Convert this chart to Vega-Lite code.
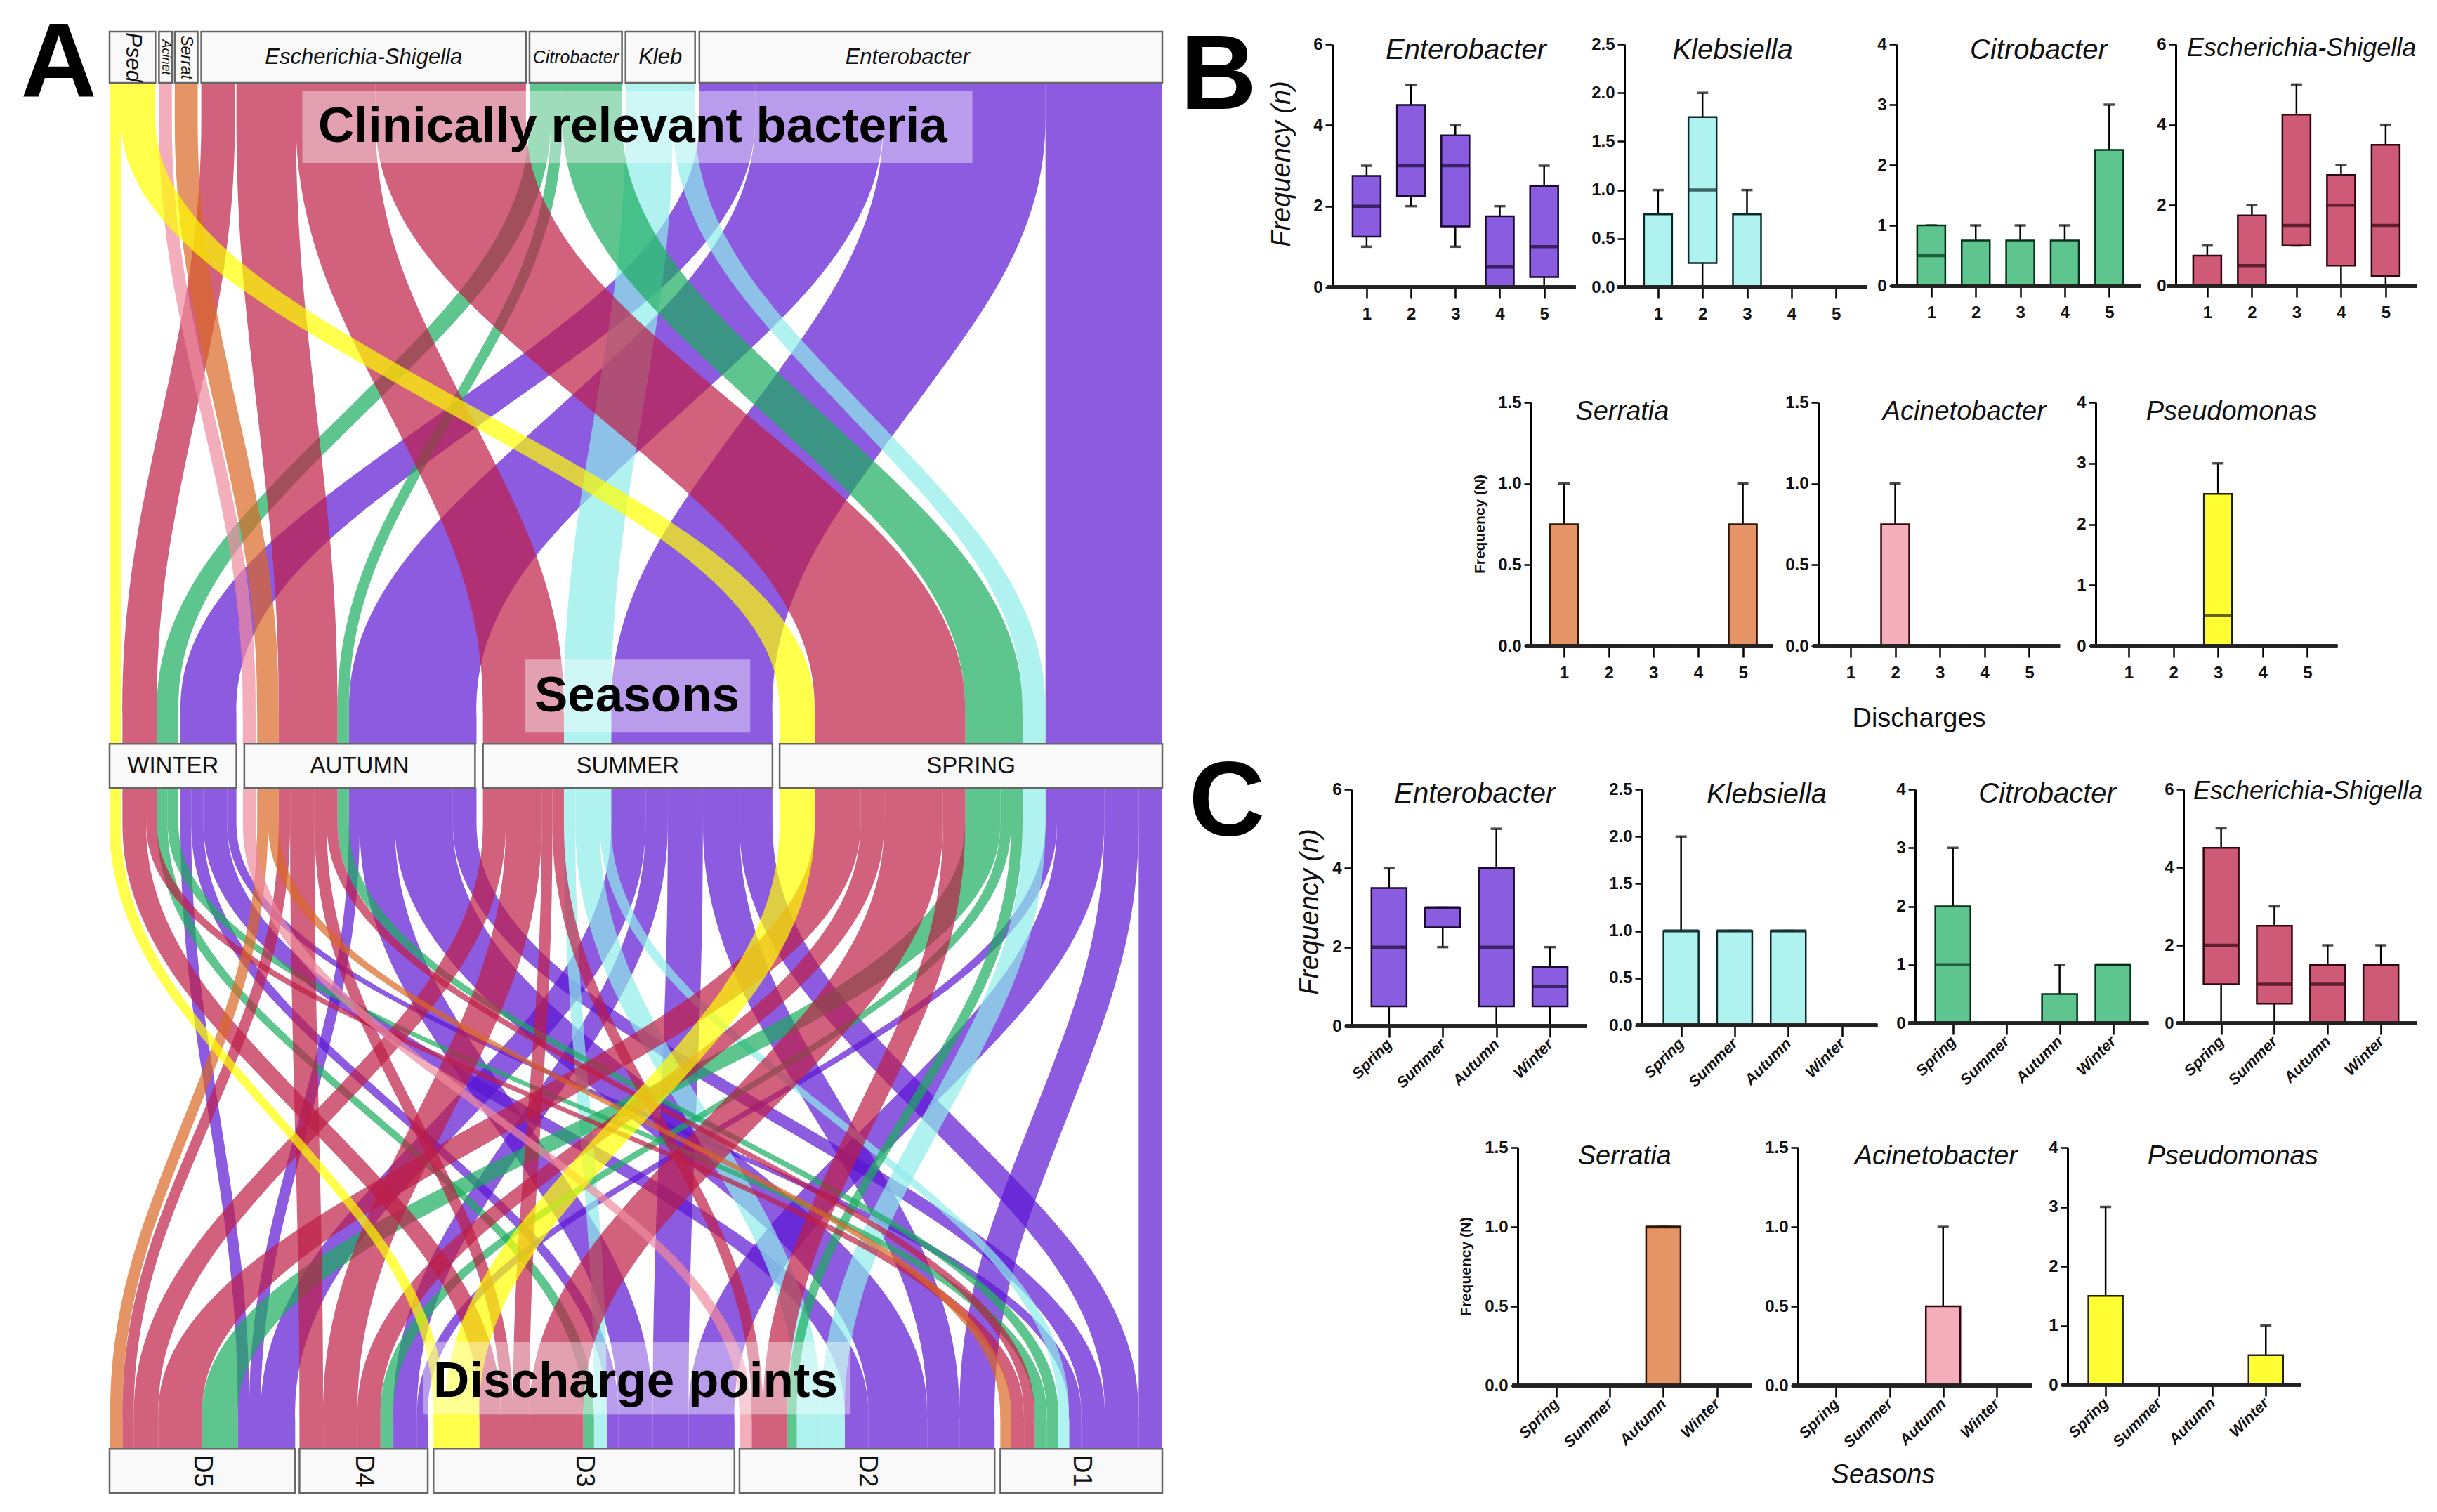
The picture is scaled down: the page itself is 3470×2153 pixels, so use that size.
{"$schema":"https://vega.github.io/schema/vega-lite/v6.json","padding":0,"autosize":{"type":"pad"},"background":"white",
"config":{"font":"Liberation Sans","view":{"stroke":null},"axis":{"grid":false,"labelFontWeight":"bold","labelFontSize":24,"labelColor":"#111","tickColor":"#000","tickWidth":2.5,"domainColor":"#000","domainWidth":3,"labelOverlap":false,"titleFontWeight":"normal","titleColor":"#111","titleFontSize":38},"axisX":{"domain":false,"tickSize":16,"labelPadding":10},"axisY":{"tickSize":10,"labelPadding":4}},
"datasets":{
"nodes":[
{"level":"Bacteria","label":"Psed","l":54,"h":118,"t0":-0.233,"t1":0},{"level":"Bacteria","label":"Acinet","l":123,"h":141,"t0":-0.233,"t1":0},{"level":"Bacteria","label":"Serrat","l":145,"h":177,"t0":-0.233,"t1":0},{"level":"Bacteria","label":"Escherichia-Shigella","l":182,"h":635,"t0":-0.233,"t1":0},{"level":"Bacteria","label":"Citrobacter","l":640,"h":769,"t0":-0.233,"t1":0},{"level":"Bacteria","label":"Kleb","l":774,"h":871,"t0":-0.233,"t1":0},{"level":"Bacteria","label":"Enterobacter","l":877,"h":1523,"t0":-0.233,"t1":0},
{"level":"Season","label":"WINTER","l":54,"h":231,"t0":3,"t1":3.2},{"level":"Season","label":"AUTUMN","l":242,"h":564,"t0":3,"t1":3.2},{"level":"Season","label":"SUMMER","l":575,"h":979,"t0":3,"t1":3.2},{"level":"Season","label":"SPRING","l":989,"h":1523,"t0":3,"t1":3.2},
{"level":"Discharge","label":"D5","l":54,"h":313,"t0":6.2,"t1":6.4},{"level":"Discharge","label":"D4","l":319,"h":498,"t0":6.2,"t1":6.4},{"level":"Discharge","label":"D3","l":506,"h":926,"t0":6.2,"t1":6.4},{"level":"Discharge","label":"D2","l":933,"h":1289,"t0":6.2,"t1":6.4},{"level":"Discharge","label":"D1","l":1297,"h":1523,"t0":6.2,"t1":6.4}],
"ribbons":[
{"r":1,"g":"Enterobacter","t":0,"l":877,"h":955},{"r":1,"g":"Enterobacter","t":0.8,"l":877,"h":955},{"r":1,"g":"Enterobacter","t":2.2,"l":153,"h":231},{"r":1,"g":"Enterobacter","t":3,"l":153,"h":231},
{"r":2,"g":"Enterobacter","t":0,"l":955,"h":1134},{"r":2,"g":"Enterobacter","t":0.8,"l":955,"h":1134},{"r":2,"g":"Enterobacter","t":2.2,"l":388,"h":566},{"r":2,"g":"Enterobacter","t":3,"l":388,"h":566},
{"r":3,"g":"Enterobacter","t":0,"l":1134,"h":1360},{"r":3,"g":"Enterobacter","t":0.8,"l":1134,"h":1360},{"r":3,"g":"Enterobacter","t":2.2,"l":754,"h":979},{"r":3,"g":"Enterobacter","t":3,"l":754,"h":979},
{"r":4,"g":"Enterobacter","t":0,"l":1360,"h":1523},{"r":4,"g":"Enterobacter","t":0.8,"l":1360,"h":1523},{"r":4,"g":"Enterobacter","t":2.2,"l":1360,"h":1523},{"r":4,"g":"Enterobacter","t":3,"l":1360,"h":1523},
{"r":5,"g":"Klebsiella","t":0,"l":774,"h":840},{"r":5,"g":"Klebsiella","t":0.8,"l":774,"h":840},{"r":5,"g":"Klebsiella","t":2.2,"l":688,"h":754},{"r":5,"g":"Klebsiella","t":3,"l":688,"h":754},
{"r":6,"g":"Klebsiella","t":0,"l":840,"h":871},{"r":6,"g":"Klebsiella","t":0.8,"l":840,"h":871},{"r":6,"g":"Klebsiella","t":2.2,"l":1328,"h":1360},{"r":6,"g":"Klebsiella","t":3,"l":1328,"h":1360},
{"r":7,"g":"Citrobacter","t":0,"l":640,"h":670},{"r":7,"g":"Citrobacter","t":0.8,"l":640,"h":670},{"r":7,"g":"Citrobacter","t":2.2,"l":120,"h":150},{"r":7,"g":"Citrobacter","t":3,"l":120,"h":150},
{"r":8,"g":"Citrobacter","t":0,"l":670,"h":686},{"r":8,"g":"Citrobacter","t":0.8,"l":670,"h":686},{"r":8,"g":"Citrobacter","t":2.2,"l":372,"h":388},{"r":8,"g":"Citrobacter","t":3,"l":372,"h":388},
{"r":9,"g":"Citrobacter","t":0,"l":686,"h":769},{"r":9,"g":"Citrobacter","t":0.8,"l":686,"h":769},{"r":9,"g":"Citrobacter","t":2.2,"l":1248,"h":1328},{"r":9,"g":"Citrobacter","t":3,"l":1248,"h":1328},
{"r":10,"g":"Escherichia","t":0,"l":182,"h":229},{"r":10,"g":"Escherichia","t":0.8,"l":182,"h":229},{"r":10,"g":"Escherichia","t":2.2,"l":72,"h":120},{"r":10,"g":"Escherichia","t":3,"l":72,"h":120},
{"r":11,"g":"Escherichia","t":0,"l":231,"h":314},{"r":11,"g":"Escherichia","t":0.8,"l":231,"h":314},{"r":11,"g":"Escherichia","t":2.2,"l":290,"h":372},{"r":11,"g":"Escherichia","t":3,"l":290,"h":372},
{"r":12,"g":"Escherichia","t":0,"l":314,"h":425},{"r":12,"g":"Escherichia","t":0.8,"l":314,"h":425},{"r":12,"g":"Escherichia","t":2.2,"l":575,"h":688},{"r":12,"g":"Escherichia","t":3,"l":575,"h":688},
{"r":13,"g":"Escherichia","t":0,"l":425,"h":635},{"r":13,"g":"Escherichia","t":0.8,"l":425,"h":635},{"r":13,"g":"Escherichia","t":2.2,"l":1038,"h":1248},{"r":13,"g":"Escherichia","t":3,"l":1038,"h":1248},
{"r":14,"g":"Serratia","t":0,"l":145,"h":177},{"r":14,"g":"Serratia","t":0.8,"l":145,"h":177},{"r":14,"g":"Serratia","t":2.2,"l":260,"h":290},{"r":14,"g":"Serratia","t":3,"l":260,"h":290},
{"r":15,"g":"Acinetobacter","t":0,"l":123,"h":141},{"r":15,"g":"Acinetobacter","t":0.8,"l":123,"h":141},{"r":15,"g":"Acinetobacter","t":2.2,"l":240,"h":258},{"r":15,"g":"Acinetobacter","t":3,"l":240,"h":258},
{"r":16,"g":"Pseudomonas","t":0,"l":54,"h":70},{"r":16,"g":"Pseudomonas","t":0.8,"l":54,"h":70},{"r":16,"g":"Pseudomonas","t":2.2,"l":54,"h":70},{"r":16,"g":"Pseudomonas","t":3,"l":54,"h":70},
{"r":17,"g":"Pseudomonas","t":0,"l":70,"h":118},{"r":17,"g":"Pseudomonas","t":0.8,"l":70,"h":118},{"r":17,"g":"Pseudomonas","t":2.2,"l":989,"h":1038},{"r":17,"g":"Pseudomonas","t":3,"l":989,"h":1038},
{"r":20,"g":"Enterobacter","t":3.2,"l":153,"h":168},{"r":20,"g":"Enterobacter","t":4,"l":153,"h":168},{"r":20,"g":"Enterobacter","t":5.4,"l":233,"h":249},{"r":20,"g":"Enterobacter","t":6.2,"l":233,"h":249},
{"r":21,"g":"Enterobacter","t":3.2,"l":168,"h":185},{"r":21,"g":"Enterobacter","t":4,"l":168,"h":185},{"r":21,"g":"Enterobacter","t":5.4,"l":748,"h":764},{"r":21,"g":"Enterobacter","t":6.2,"l":748,"h":764},
{"r":22,"g":"Enterobacter","t":3.2,"l":185,"h":218},{"r":22,"g":"Enterobacter","t":4,"l":185,"h":218},{"r":22,"g":"Enterobacter","t":5.4,"l":1080,"h":1113},{"r":22,"g":"Enterobacter","t":6.2,"l":1080,"h":1113},
{"r":23,"g":"Enterobacter","t":3.2,"l":218,"h":231},{"r":23,"g":"Enterobacter","t":4,"l":218,"h":231},{"r":23,"g":"Enterobacter","t":5.4,"l":1393,"h":1410},{"r":23,"g":"Enterobacter","t":6.2,"l":1393,"h":1410},
{"r":24,"g":"Enterobacter","t":3.2,"l":388,"h":403},{"r":24,"g":"Enterobacter","t":4,"l":388,"h":403},{"r":24,"g":"Enterobacter","t":5.4,"l":249,"h":265},{"r":24,"g":"Enterobacter","t":6.2,"l":249,"h":265},
{"r":25,"g":"Enterobacter","t":3.2,"l":403,"h":452},{"r":25,"g":"Enterobacter","t":4,"l":403,"h":452},{"r":25,"g":"Enterobacter","t":5.4,"l":764,"h":812},{"r":25,"g":"Enterobacter","t":6.2,"l":764,"h":812},
{"r":26,"g":"Enterobacter","t":3.2,"l":452,"h":533},{"r":26,"g":"Enterobacter","t":4,"l":452,"h":533},{"r":26,"g":"Enterobacter","t":5.4,"l":1113,"h":1195},{"r":26,"g":"Enterobacter","t":6.2,"l":1113,"h":1195},
{"r":27,"g":"Enterobacter","t":3.2,"l":533,"h":566},{"r":27,"g":"Enterobacter","t":4,"l":533,"h":566},{"r":27,"g":"Enterobacter","t":5.4,"l":1410,"h":1443},{"r":27,"g":"Enterobacter","t":6.2,"l":1410,"h":1443},
{"r":28,"g":"Enterobacter","t":3.2,"l":754,"h":802},{"r":28,"g":"Enterobacter","t":4,"l":754,"h":802},{"r":28,"g":"Enterobacter","t":5.4,"l":265,"h":313},{"r":28,"g":"Enterobacter","t":6.2,"l":265,"h":313},
{"r":29,"g":"Enterobacter","t":3.2,"l":802,"h":833},{"r":29,"g":"Enterobacter","t":4,"l":802,"h":833},{"r":29,"g":"Enterobacter","t":5.4,"l":450,"h":483},{"r":29,"g":"Enterobacter","t":6.2,"l":450,"h":483},
{"r":30,"g":"Enterobacter","t":3.2,"l":833,"h":882},{"r":30,"g":"Enterobacter","t":4,"l":833,"h":882},{"r":30,"g":"Enterobacter","t":5.4,"l":812,"h":862},{"r":30,"g":"Enterobacter","t":6.2,"l":812,"h":862},
{"r":31,"g":"Enterobacter","t":3.2,"l":882,"h":933},{"r":31,"g":"Enterobacter","t":4,"l":882,"h":933},{"r":31,"g":"Enterobacter","t":5.4,"l":1195,"h":1240},{"r":31,"g":"Enterobacter","t":6.2,"l":1195,"h":1240},
{"r":32,"g":"Enterobacter","t":3.2,"l":933,"h":979},{"r":32,"g":"Enterobacter","t":4,"l":933,"h":979},{"r":32,"g":"Enterobacter","t":5.4,"l":1443,"h":1490},{"r":32,"g":"Enterobacter","t":6.2,"l":1443,"h":1490},
{"r":33,"g":"Enterobacter","t":3.2,"l":1360,"h":1376},{"r":33,"g":"Enterobacter","t":4,"l":1360,"h":1376},{"r":33,"g":"Enterobacter","t":5.4,"l":483,"h":498},{"r":33,"g":"Enterobacter","t":6.2,"l":483,"h":498},
{"r":34,"g":"Enterobacter","t":3.2,"l":1376,"h":1442},{"r":34,"g":"Enterobacter","t":4,"l":1376,"h":1442},{"r":34,"g":"Enterobacter","t":5.4,"l":862,"h":926},{"r":34,"g":"Enterobacter","t":6.2,"l":862,"h":926},
{"r":35,"g":"Enterobacter","t":3.2,"l":1442,"h":1490},{"r":35,"g":"Enterobacter","t":4,"l":1442,"h":1490},{"r":35,"g":"Enterobacter","t":5.4,"l":1240,"h":1289},{"r":35,"g":"Enterobacter","t":6.2,"l":1240,"h":1289},
{"r":36,"g":"Enterobacter","t":3.2,"l":1490,"h":1523},{"r":36,"g":"Enterobacter","t":4,"l":1490,"h":1523},{"r":36,"g":"Enterobacter","t":5.4,"l":1490,"h":1523},{"r":36,"g":"Enterobacter","t":6.2,"l":1490,"h":1523},
{"r":40,"g":"Klebsiella","t":3.2,"l":688,"h":704},{"r":40,"g":"Klebsiella","t":4,"l":688,"h":704},{"r":40,"g":"Klebsiella","t":5.4,"l":730,"h":748},{"r":40,"g":"Klebsiella","t":6.2,"l":730,"h":748},
{"r":41,"g":"Klebsiella","t":3.2,"l":704,"h":738},{"r":41,"g":"Klebsiella","t":4,"l":704,"h":738},{"r":41,"g":"Klebsiella","t":5.4,"l":1013,"h":1047},{"r":41,"g":"Klebsiella","t":6.2,"l":1013,"h":1047},
{"r":42,"g":"Klebsiella","t":3.2,"l":738,"h":754},{"r":42,"g":"Klebsiella","t":4,"l":738,"h":754},{"r":42,"g":"Klebsiella","t":5.4,"l":1378,"h":1393},{"r":42,"g":"Klebsiella","t":6.2,"l":1378,"h":1393},
{"r":43,"g":"Klebsiella","t":3.2,"l":1328,"h":1360},{"r":43,"g":"Klebsiella","t":4,"l":1328,"h":1360},{"r":43,"g":"Klebsiella","t":5.4,"l":1047,"h":1080},{"r":43,"g":"Klebsiella","t":6.2,"l":1047,"h":1080},
{"r":50,"g":"Citrobacter","t":3.2,"l":120,"h":135},{"r":50,"g":"Citrobacter","t":4,"l":120,"h":135},{"r":50,"g":"Citrobacter","t":5.4,"l":715,"h":730},{"r":50,"g":"Citrobacter","t":6.2,"l":715,"h":730},
{"r":51,"g":"Citrobacter","t":3.2,"l":135,"h":150},{"r":51,"g":"Citrobacter","t":4,"l":135,"h":150},{"r":51,"g":"Citrobacter","t":5.4,"l":1345,"h":1362},{"r":51,"g":"Citrobacter","t":6.2,"l":1345,"h":1362},
{"r":52,"g":"Citrobacter","t":3.2,"l":372,"h":388},{"r":52,"g":"Citrobacter","t":4,"l":372,"h":388},{"r":52,"g":"Citrobacter","t":5.4,"l":1362,"h":1378},{"r":52,"g":"Citrobacter","t":6.2,"l":1362,"h":1378},
{"r":53,"g":"Citrobacter","t":3.2,"l":1248,"h":1297},{"r":53,"g":"Citrobacter","t":4,"l":1248,"h":1297},{"r":53,"g":"Citrobacter","t":5.4,"l":183,"h":233},{"r":53,"g":"Citrobacter","t":6.2,"l":183,"h":233},
{"r":54,"g":"Citrobacter","t":3.2,"l":1297,"h":1312},{"r":54,"g":"Citrobacter","t":4,"l":1297,"h":1312},{"r":54,"g":"Citrobacter","t":5.4,"l":432,"h":450},{"r":54,"g":"Citrobacter","t":6.2,"l":432,"h":450},
{"r":55,"g":"Citrobacter","t":3.2,"l":1312,"h":1328},{"r":55,"g":"Citrobacter","t":4,"l":1312,"h":1328},{"r":55,"g":"Citrobacter","t":5.4,"l":1000,"h":1013},{"r":55,"g":"Citrobacter","t":6.2,"l":1000,"h":1013},
{"r":60,"g":"Escherichia","t":3.2,"l":72,"h":105},{"r":60,"g":"Escherichia","t":4,"l":72,"h":105},{"r":60,"g":"Escherichia","t":5.4,"l":570,"h":600},{"r":60,"g":"Escherichia","t":6.2,"l":570,"h":600},
{"r":61,"g":"Escherichia","t":3.2,"l":105,"h":120},{"r":61,"g":"Escherichia","t":4,"l":105,"h":120},{"r":61,"g":"Escherichia","t":5.4,"l":1312,"h":1330},{"r":61,"g":"Escherichia","t":6.2,"l":1312,"h":1330},
{"r":62,"g":"Escherichia","t":3.2,"l":290,"h":306},{"r":62,"g":"Escherichia","t":4,"l":290,"h":306},{"r":62,"g":"Escherichia","t":5.4,"l":72,"h":88},{"r":62,"g":"Escherichia","t":6.2,"l":72,"h":88},
{"r":63,"g":"Escherichia","t":3.2,"l":306,"h":340},{"r":63,"g":"Escherichia","t":4,"l":306,"h":340},{"r":63,"g":"Escherichia","t":5.4,"l":319,"h":352},{"r":63,"g":"Escherichia","t":6.2,"l":319,"h":352},
{"r":64,"g":"Escherichia","t":3.2,"l":340,"h":357},{"r":64,"g":"Escherichia","t":4,"l":340,"h":357},{"r":64,"g":"Escherichia","t":5.4,"l":600,"h":617},{"r":64,"g":"Escherichia","t":6.2,"l":600,"h":617},
{"r":65,"g":"Escherichia","t":3.2,"l":357,"h":372},{"r":65,"g":"Escherichia","t":4,"l":357,"h":372},{"r":65,"g":"Escherichia","t":5.4,"l":1330,"h":1345},{"r":65,"g":"Escherichia","t":6.2,"l":1330,"h":1345},
{"r":66,"g":"Escherichia","t":3.2,"l":575,"h":607},{"r":66,"g":"Escherichia","t":4,"l":575,"h":607},{"r":66,"g":"Escherichia","t":5.4,"l":88,"h":122},{"r":66,"g":"Escherichia","t":6.2,"l":88,"h":122},
{"r":67,"g":"Escherichia","t":3.2,"l":607,"h":657},{"r":67,"g":"Escherichia","t":4,"l":607,"h":657},{"r":67,"g":"Escherichia","t":5.4,"l":352,"h":400},{"r":67,"g":"Escherichia","t":6.2,"l":352,"h":400},
{"r":68,"g":"Escherichia","t":3.2,"l":657,"h":672},{"r":68,"g":"Escherichia","t":4,"l":657,"h":672},{"r":68,"g":"Escherichia","t":5.4,"l":617,"h":640},{"r":68,"g":"Escherichia","t":6.2,"l":617,"h":640},
{"r":69,"g":"Escherichia","t":3.2,"l":672,"h":688},{"r":69,"g":"Escherichia","t":4,"l":672,"h":688},{"r":69,"g":"Escherichia","t":5.4,"l":950,"h":966},{"r":69,"g":"Escherichia","t":6.2,"l":950,"h":966},
{"r":70,"g":"Escherichia","t":3.2,"l":1038,"h":1102},{"r":70,"g":"Escherichia","t":4,"l":1038,"h":1102},{"r":70,"g":"Escherichia","t":5.4,"l":122,"h":183},{"r":70,"g":"Escherichia","t":6.2,"l":122,"h":183},
{"r":71,"g":"Escherichia","t":3.2,"l":1102,"h":1135},{"r":71,"g":"Escherichia","t":4,"l":1102,"h":1135},{"r":71,"g":"Escherichia","t":5.4,"l":400,"h":432},{"r":71,"g":"Escherichia","t":6.2,"l":400,"h":432},
{"r":72,"g":"Escherichia","t":3.2,"l":1135,"h":1217},{"r":72,"g":"Escherichia","t":4,"l":1135,"h":1217},{"r":72,"g":"Escherichia","t":5.4,"l":640,"h":715},{"r":72,"g":"Escherichia","t":6.2,"l":640,"h":715},
{"r":73,"g":"Escherichia","t":3.2,"l":1217,"h":1248},{"r":73,"g":"Escherichia","t":4,"l":1217,"h":1248},{"r":73,"g":"Escherichia","t":5.4,"l":966,"h":1000},{"r":73,"g":"Escherichia","t":6.2,"l":966,"h":1000},
{"r":80,"g":"Serratia","t":3.2,"l":260,"h":275},{"r":80,"g":"Serratia","t":4,"l":260,"h":275},{"r":80,"g":"Serratia","t":5.4,"l":55,"h":72},{"r":80,"g":"Serratia","t":6.2,"l":55,"h":72},
{"r":81,"g":"Serratia","t":3.2,"l":275,"h":290},{"r":81,"g":"Serratia","t":4,"l":275,"h":290},{"r":81,"g":"Serratia","t":5.4,"l":1297,"h":1312},{"r":81,"g":"Serratia","t":6.2,"l":1297,"h":1312},
{"r":82,"g":"Acinetobacter","t":3.2,"l":240,"h":258},{"r":82,"g":"Acinetobacter","t":4,"l":240,"h":258},{"r":82,"g":"Acinetobacter","t":5.4,"l":933,"h":950},{"r":82,"g":"Acinetobacter","t":6.2,"l":933,"h":950},
{"r":83,"g":"Pseudomonas","t":3.2,"l":54,"h":70},{"r":83,"g":"Pseudomonas","t":4,"l":54,"h":70},{"r":83,"g":"Pseudomonas","t":5.4,"l":506,"h":522},{"r":83,"g":"Pseudomonas","t":6.2,"l":506,"h":522},
{"r":84,"g":"Pseudomonas","t":3.2,"l":989,"h":1038},{"r":84,"g":"Pseudomonas","t":4,"l":989,"h":1038},{"r":84,"g":"Pseudomonas","t":5.4,"l":522,"h":570},{"r":84,"g":"Pseudomonas","t":6.2,"l":522,"h":570}],
"box":[
{"p":"B1","g":1,"lo":1,"q1":1.25,"m":2,"q3":2.75,"hi":3},{"p":"B1","g":2,"lo":2,"q1":2.25,"m":3,"q3":4.5,"hi":5},{"p":"B1","g":3,"lo":1,"q1":1.5,"m":3,"q3":3.75,"hi":4},{"p":"B1","g":4,"lo":0,"q1":0,"m":0.5,"q3":1.75,"hi":2},{"p":"B1","g":5,"lo":0,"q1":0.25,"m":1,"q3":2.5,"hi":3},
{"p":"B2","g":1,"lo":0,"q1":0,"m":0,"q3":0.75,"hi":1},{"p":"B2","g":2,"lo":0,"q1":0.25,"m":1,"q3":1.75,"hi":2},{"p":"B2","g":3,"lo":0,"q1":0,"m":0,"q3":0.75,"hi":1},{"p":"B2","g":4,"lo":0,"q1":0,"m":0,"q3":0,"hi":0},{"p":"B2","g":5,"lo":0,"q1":0,"m":0,"q3":0,"hi":0},
{"p":"B3","g":1,"lo":0,"q1":0,"m":0.5,"q3":1,"hi":1},{"p":"B3","g":2,"lo":0,"q1":0,"m":0,"q3":0.75,"hi":1},{"p":"B3","g":3,"lo":0,"q1":0,"m":0,"q3":0.75,"hi":1},{"p":"B3","g":4,"lo":0,"q1":0,"m":0,"q3":0.75,"hi":1},{"p":"B3","g":5,"lo":0,"q1":0,"m":0,"q3":2.25,"hi":3},
{"p":"B4","g":1,"lo":0,"q1":0,"m":0,"q3":0.75,"hi":1},{"p":"B4","g":2,"lo":0,"q1":0,"m":0.5,"q3":1.75,"hi":2},{"p":"B4","g":3,"lo":1,"q1":1,"m":1.5,"q3":4.25,"hi":5},{"p":"B4","g":4,"lo":0,"q1":0.5,"m":2,"q3":2.75,"hi":3},{"p":"B4","g":5,"lo":0,"q1":0.25,"m":1.5,"q3":3.5,"hi":4},
{"p":"S1","g":1,"lo":0,"q1":0,"m":0,"q3":0.75,"hi":1},{"p":"S1","g":2,"lo":0,"q1":0,"m":0,"q3":0,"hi":0},{"p":"S1","g":3,"lo":0,"q1":0,"m":0,"q3":0,"hi":0},{"p":"S1","g":4,"lo":0,"q1":0,"m":0,"q3":0,"hi":0},{"p":"S1","g":5,"lo":0,"q1":0,"m":0,"q3":0.75,"hi":1},
{"p":"S2","g":1,"lo":0,"q1":0,"m":0,"q3":0,"hi":0},{"p":"S2","g":2,"lo":0,"q1":0,"m":0,"q3":0.75,"hi":1},{"p":"S2","g":3,"lo":0,"q1":0,"m":0,"q3":0,"hi":0},{"p":"S2","g":4,"lo":0,"q1":0,"m":0,"q3":0,"hi":0},{"p":"S2","g":5,"lo":0,"q1":0,"m":0,"q3":0,"hi":0},
{"p":"S3","g":1,"lo":0,"q1":0,"m":0,"q3":0,"hi":0},{"p":"S3","g":2,"lo":0,"q1":0,"m":0,"q3":0,"hi":0},{"p":"S3","g":3,"lo":0,"q1":0,"m":0.5,"q3":2.5,"hi":3},{"p":"S3","g":4,"lo":0,"q1":0,"m":0,"q3":0,"hi":0},{"p":"S3","g":5,"lo":0,"q1":0,"m":0,"q3":0,"hi":0},
{"p":"C1","g":1,"lo":0,"q1":0.5,"m":2,"q3":3.5,"hi":4},{"p":"C1","g":2,"lo":2,"q1":2.5,"m":3,"q3":3,"hi":3},{"p":"C1","g":3,"lo":0,"q1":0.5,"m":2,"q3":4,"hi":5},{"p":"C1","g":4,"lo":0,"q1":0.5,"m":1,"q3":1.5,"hi":2},
{"p":"C2","g":1,"lo":0,"q1":0,"m":1,"q3":1,"hi":2},{"p":"C2","g":2,"lo":0,"q1":0,"m":1,"q3":1,"hi":1},{"p":"C2","g":3,"lo":0,"q1":0,"m":1,"q3":1,"hi":1},{"p":"C2","g":4,"lo":0,"q1":0,"m":0,"q3":0,"hi":0},
{"p":"C3","g":1,"lo":0,"q1":0,"m":1,"q3":2,"hi":3},{"p":"C3","g":2,"lo":0,"q1":0,"m":0,"q3":0,"hi":0},{"p":"C3","g":3,"lo":0,"q1":0,"m":0,"q3":0.5,"hi":1},{"p":"C3","g":4,"lo":0,"q1":0,"m":1,"q3":1,"hi":1},
{"p":"C4","g":1,"lo":0,"q1":1,"m":2,"q3":4.5,"hi":5},{"p":"C4","g":2,"lo":0,"q1":0.5,"m":1,"q3":2.5,"hi":3},{"p":"C4","g":3,"lo":0,"q1":0,"m":1,"q3":1.5,"hi":2},{"p":"C4","g":4,"lo":0,"q1":0,"m":0,"q3":1.5,"hi":2},
{"p":"R1","g":1,"lo":0,"q1":0,"m":0,"q3":0,"hi":0},{"p":"R1","g":2,"lo":0,"q1":0,"m":0,"q3":0,"hi":0},{"p":"R1","g":3,"lo":0,"q1":0,"m":1,"q3":1,"hi":1},{"p":"R1","g":4,"lo":0,"q1":0,"m":0,"q3":0,"hi":0},
{"p":"R2","g":1,"lo":0,"q1":0,"m":0,"q3":0,"hi":0},{"p":"R2","g":2,"lo":0,"q1":0,"m":0,"q3":0,"hi":0},{"p":"R2","g":3,"lo":0,"q1":0,"m":0,"q3":0.5,"hi":1},{"p":"R2","g":4,"lo":0,"q1":0,"m":0,"q3":0,"hi":0},
{"p":"R3","g":1,"lo":0,"q1":0,"m":0,"q3":1.5,"hi":3},{"p":"R3","g":2,"lo":0,"q1":0,"m":0,"q3":0,"hi":0},{"p":"R3","g":3,"lo":0,"q1":0,"m":0,"q3":0,"hi":0},{"p":"R3","g":4,"lo":0,"q1":0,"m":0,"q3":0.5,"hi":1}]
},
"spacing":0,
"hconcat":[
{"width":1645,"height":2091,"layer":[
{"data":{"values":[{"x0":-97.9,"x1":1666,"y0":-0.3733,"y1":6.4893}]},"mark":{"type":"rect","fill":"white"},"encoding":{"x":{"field":"x0","type":"quantitative","axis":null,"scale":{"domain":[54,1523],"range":[0,1499],"nice":false,"zero":false}},"x2":{"field":"x1"},"y":{"field":"y0","type":"quantitative","axis":null,"scale":{"domain":[-0.233,6.4],"range":[-18,2063],"nice":false,"zero":false}},"y2":{"field":"y1"}}},
{"data":{"name":"ribbons"},"mark":{"type":"area","orient":"horizontal","interpolate":"basis","opacity":0.7},"encoding":{"x":{"field":"l","type":"quantitative","axis":null,"stack":null},"x2":{"field":"h"},"y":{"field":"t","type":"quantitative","axis":null},"detail":{"field":"r"},"color":{"field":"g","type":"nominal","legend":null,"scale":{"domain":["Enterobacter","Klebsiella","Citrobacter","Escherichia","Serratia","Acinetobacter","Pseudomonas"],"range":["#5B16D3","#8EECE9","#19AC5E","#BE1E46","#DA6725","#EF8A9E","#FFFF00"]}}}},
{"data":{"name":"nodes"},"transform":[{"calculate":"(datum.l+datum.h)/2","as":"c"},{"calculate":"(datum.t0+datum.t1)/2","as":"m"}],"layer":[
{"mark":{"type":"rect","fill":"#F9F9F9","stroke":"#666666","strokeWidth":2.5},"encoding":{"x":{"field":"l","type":"quantitative","axis":null},"x2":{"field":"h"},"y":{"field":"t0","type":"quantitative","axis":null},"y2":{"field":"t1"}}},
{"transform":[{"filter":{"field":"label","oneOf":["Escherichia-Shigella","Kleb"]}}],"mark":{"type":"text","fontSize":31,"fontStyle":"italic","color":"#111"},"encoding":{"x":{"field":"c","type":"quantitative","axis":null},"y":{"field":"m","type":"quantitative","axis":null},"text":{"field":"label"}}},
{"transform":[{"filter":{"field":"label","oneOf":["Enterobacter"]}}],"mark":{"type":"text","fontSize":31,"fontStyle":"italic","color":"#111","dx":-33},"encoding":{"x":{"field":"c","type":"quantitative","axis":null},"y":{"field":"m","type":"quantitative","axis":null},"text":{"field":"label"}}},
{"transform":[{"filter":{"field":"label","oneOf":["Citrobacter"]}}],"mark":{"type":"text","fontSize":25,"fontStyle":"italic","color":"#111"},"encoding":{"x":{"field":"c","type":"quantitative","axis":null},"y":{"field":"m","type":"quantitative","axis":null},"text":{"field":"label"}}},
{"transform":[{"filter":{"field":"label","oneOf":["Psed"]}}],"mark":{"type":"text","fontSize":31,"fontStyle":"italic","angle":90,"color":"#111"},"encoding":{"x":{"field":"c","type":"quantitative","axis":null},"y":{"field":"m","type":"quantitative","axis":null},"text":{"field":"label"}}},
{"transform":[{"filter":{"field":"label","oneOf":["Serrat"]}}],"mark":{"type":"text","fontSize":23,"fontStyle":"italic","angle":90,"color":"#111"},"encoding":{"x":{"field":"c","type":"quantitative","axis":null},"y":{"field":"m","type":"quantitative","axis":null},"text":{"field":"label"}}},
{"transform":[{"filter":{"field":"label","oneOf":["Acinet"]}}],"mark":{"type":"text","fontSize":18,"fontStyle":"italic","angle":90,"color":"#111"},"encoding":{"x":{"field":"c","type":"quantitative","axis":null},"y":{"field":"m","type":"quantitative","axis":null},"text":{"field":"label"}}},
{"transform":[{"filter":{"field":"level","equal":"Season"}}],"mark":{"type":"text","fontSize":33,"color":"#111"},"encoding":{"x":{"field":"c","type":"quantitative","axis":null},"y":{"field":"m","type":"quantitative","axis":null},"text":{"field":"label"}}},
{"transform":[{"filter":{"field":"level","equal":"Discharge"}}],"mark":{"type":"text","fontSize":36,"angle":90,"color":"#111"},"encoding":{"x":{"field":"c","type":"quantitative","axis":null},"y":{"field":"m","type":"quantitative","axis":null},"text":{"field":"label"}}}]},
{"data":{"values":[{"x0":323,"x1":1258,"y0":0.035,"y1":0.363},{"x0":634,"x1":948,"y0":2.617,"y1":2.949},{"x0":492,"x1":1088,"y0":5.715,"y1":6.044}]},"mark":{"type":"rect","fill":"white","opacity":0.4},"encoding":{"x":{"field":"x0","type":"quantitative","axis":null},"x2":{"field":"x1"},"y":{"field":"y0","type":"quantitative","axis":null},"y2":{"field":"y1"}}},
{"data":{"values":[{"label":"Clinically relevant bacteria","x":784,"y":0.2},{"label":"Seasons","x":790,"y":2.786},{"label":"Discharge points","x":788,"y":5.897}]},"mark":{"type":"text","fontSize":71,"fontWeight":"bold","color":"#000"},"encoding":{"x":{"field":"x","type":"quantitative","axis":null},"y":{"field":"y","type":"quantitative","axis":null},"text":{"field":"label"}}},
{"data":{"values":[{"label":"A","x":-17,"y":0.0603},{"label":"B","x":1601,"y":0.118},{"label":"C","x":1613,"y":3.417}]},"mark":{"type":"text","fontSize":150,"fontWeight":"bold","color":"#000","baseline":"alphabetic"},"encoding":{"x":{"field":"x","type":"quantitative","axis":null},"y":{"field":"y","type":"quantitative","axis":null},"text":{"field":"label"}}}
]},
{"spacing":0,"vconcat":[
{"spacing":0,"bounds":"flush","hconcat":[
{"width":95,"height":1,"data":{"values":[{"x0":0,"x1":1,"y0":0,"y1":1}]},"mark":{"type":"rect","opacity":0},"encoding":{"x":{"field":"x0","type":"quantitative","axis":null,"scale":{"domain":[0,1],"range":[0,1670],"nice":false,"zero":false}},"x2":{"field":"x1"},"y":{"field":"y0","type":"quantitative","axis":null,"scale":{"domain":[0,1],"range":[-62,470],"nice":false,"zero":false}},"y2":{"field":"y1"}}},

{"width":416,"height":346,"data":{"name":"box"},"transform":[{"filter":"datum.p=='B1'"}],"encoding":{"x":{"field":"g","type":"quantitative","scale":{"domain":[0.305,6.73],"nice":false,"zero":false},"axis":{"values":[1,2,3,4,5],"format":"d","title":null}}},"layer":[
{"mark":{"type":"rule","color":"#000","strokeWidth":2.5},"encoding":{"y":{"field":"lo","type":"quantitative","scale":{"domain":[0,6],"nice":false},"axis":{"values":[0,2,4,6],"format":"d","title":"Frequency (n)","titleFontStyle":"italic","titleX":-72,"titleY":170,"titleBaseline":"middle"}},"y2":{"field":"hi"}}},
{"mark":{"type":"tick","orient":"horizontal","size":16,"thickness":3.5,"color":"#000"},"encoding":{"y":{"field":"hi","type":"quantitative"}}},
{"mark":{"type":"tick","orient":"horizontal","size":16,"thickness":3.5,"color":"#000"},"encoding":{"y":{"field":"lo","type":"quantitative"}}},
{"mark":{"type":"bar","orient":"vertical","size":40,"fill":"#8A5CE0","stroke":"#1a0a33","strokeWidth":2.5},"encoding":{"y":{"field":"q1","type":"quantitative"},"y2":{"field":"q3"}}},
{"mark":{"type":"tick","orient":"horizontal","size":40,"thickness":4.5,"color":"#1a0a33"},"encoding":{"y":{"field":"m","type":"quantitative"}}},
{"mark":{"type":"rule","color":"#222","strokeWidth":5},"encoding":{"x":{"datum":0.12,"type":"quantitative"},"x2":{"datum":5.71},"y":{"datum":0,"type":"quantitative"}}},
{"transform":[{"filter":"datum.g==1"}],"mark":{"type":"text","fontSize":40,"fontStyle":"italic","color":"#111"},"encoding":{"x":{"datum":3.24,"type":"quantitative"},"y":{"datum":5.84,"type":"quantitative"},"text":{"value":"Enterobacter"}}}]},

{"width":387,"height":346,"data":{"name":"box"},"transform":[{"filter":"datum.p=='B2'"}],"encoding":{"x":{"field":"g","type":"quantitative","scale":{"domain":[0.323,6.277],"nice":false,"zero":false},"axis":{"values":[1,2,3,4,5],"format":"d","title":null}}},"layer":[
{"mark":{"type":"rule","color":"#000","strokeWidth":2.5},"encoding":{"y":{"field":"lo","type":"quantitative","scale":{"domain":[0,2.5],"nice":false},"axis":{"values":[0,0.5,1,1.5,2,2.5],"format":".1f","title":null}},"y2":{"field":"hi"}}},
{"mark":{"type":"tick","orient":"horizontal","size":16,"thickness":3.5,"color":"#000"},"encoding":{"y":{"field":"hi","type":"quantitative"}}},
{"mark":{"type":"tick","orient":"horizontal","size":16,"thickness":3.5,"color":"#000"},"encoding":{"y":{"field":"lo","type":"quantitative"}}},
{"mark":{"type":"bar","orient":"vertical","size":40,"fill":"#B0F2F0","stroke":"#0a2a2a","strokeWidth":2.5},"encoding":{"y":{"field":"q1","type":"quantitative"},"y2":{"field":"q3"}}},
{"mark":{"type":"tick","orient":"horizontal","size":40,"thickness":4.5,"color":"#0a2a2a"},"encoding":{"y":{"field":"m","type":"quantitative"}}},
{"mark":{"type":"rule","color":"#222","strokeWidth":5},"encoding":{"x":{"datum":0.092,"type":"quantitative"},"x2":{"datum":5.692},"y":{"datum":0,"type":"quantitative"}}},
{"transform":[{"filter":"datum.g==1"}],"mark":{"type":"text","fontSize":40,"fontStyle":"italic","color":"#111"},"encoding":{"x":{"datum":2.677,"type":"quantitative"},"y":{"datum":2.435,"type":"quantitative"},"text":{"value":"Klebsiella"}}}]},

{"width":398,"height":344,"data":{"name":"box"},"transform":[{"filter":"datum.p=='B3'"}],"encoding":{"x":{"field":"g","type":"quantitative","scale":{"domain":[0.292,6.415],"nice":false,"zero":false},"axis":{"values":[1,2,3,4,5],"format":"d","title":null}}},"layer":[
{"mark":{"type":"rule","color":"#000","strokeWidth":2.5},"encoding":{"y":{"field":"lo","type":"quantitative","scale":{"domain":[0,4],"nice":false},"axis":{"values":[0,1,2,3,4],"format":"d","title":null}},"y2":{"field":"hi"}}},
{"mark":{"type":"tick","orient":"horizontal","size":16,"thickness":3.5,"color":"#000"},"encoding":{"y":{"field":"hi","type":"quantitative"}}},
{"mark":{"type":"tick","orient":"horizontal","size":16,"thickness":3.5,"color":"#000"},"encoding":{"y":{"field":"lo","type":"quantitative"}}},
{"mark":{"type":"bar","orient":"vertical","size":40,"fill":"#5EC58E","stroke":"#06301a","strokeWidth":2.5},"encoding":{"y":{"field":"q1","type":"quantitative"},"y2":{"field":"q3"}}},
{"mark":{"type":"tick","orient":"horizontal","size":40,"thickness":4.5,"color":"#06301a"},"encoding":{"y":{"field":"m","type":"quantitative"}}},
{"mark":{"type":"rule","color":"#222","strokeWidth":5},"encoding":{"x":{"datum":0.092,"type":"quantitative"},"x2":{"datum":5.707},"y":{"datum":0,"type":"quantitative"}}},
{"transform":[{"filter":"datum.g==1"}],"mark":{"type":"text","fontSize":40,"fontStyle":"italic","color":"#111"},"encoding":{"x":{"datum":3.415,"type":"quantitative"},"y":{"datum":3.895,"type":"quantitative"},"text":{"value":"Citrobacter"}}}]},

{"width":374,"height":344,"data":{"name":"box"},"transform":[{"filter":"datum.p=='B4'"}],"encoding":{"x":{"field":"g","type":"quantitative","scale":{"domain":[0.372,6.104],"nice":false,"zero":false},"axis":{"values":[1,2,3,4,5],"format":"d","title":null}}},"layer":[
{"mark":{"type":"rule","color":"#000","strokeWidth":2.5},"encoding":{"y":{"field":"lo","type":"quantitative","scale":{"domain":[0,6],"nice":false},"axis":{"values":[0,2,4,6],"format":"d","title":null}},"y2":{"field":"hi"}}},
{"mark":{"type":"tick","orient":"horizontal","size":16,"thickness":3.5,"color":"#000"},"encoding":{"y":{"field":"hi","type":"quantitative"}}},
{"mark":{"type":"tick","orient":"horizontal","size":16,"thickness":3.5,"color":"#000"},"encoding":{"y":{"field":"lo","type":"quantitative"}}},
{"mark":{"type":"bar","orient":"vertical","size":40,"fill":"#CE5A78","stroke":"#30060f","strokeWidth":2.5},"encoding":{"y":{"field":"q1","type":"quantitative"},"y2":{"field":"q3"}}},
{"mark":{"type":"tick","orient":"horizontal","size":40,"thickness":4.5,"color":"#30060f"},"encoding":{"y":{"field":"m","type":"quantitative"}}},
{"mark":{"type":"rule","color":"#222","strokeWidth":5},"encoding":{"x":{"datum":0.096,"type":"quantitative"},"x2":{"datum":5.705},"y":{"datum":0,"type":"quantitative"}}},
{"transform":[{"filter":"datum.g==1"}],"mark":{"type":"text","fontSize":36,"fontStyle":"italic","color":"#111"},"encoding":{"x":{"datum":3.115,"type":"quantitative"},"y":{"datum":5.895,"type":"quantitative"},"text":{"value":"Escherichia-Shigella"}}}]}
]},

{"spacing":0,"bounds":"flush","hconcat":[
{"width":378,"height":1,"data":{"values":[{"x0":0,"x1":1,"y0":0,"y1":1}]},"mark":{"type":"rect","opacity":0},"encoding":{"x":{"field":"x0","type":"quantitative","axis":null,"scale":{"domain":[0,1],"range":[0,378],"nice":false,"zero":false}},"x2":{"field":"x1"},"y":{"field":"y0","type":"quantitative","axis":null,"scale":{"domain":[0,1],"range":[-40,511],"nice":false,"zero":false}},"y2":{"field":"y1"}}},

{"width":409,"height":347,"data":{"name":"box"},"transform":[{"filter":"datum.p=='S1'"}],"encoding":{"x":{"field":"g","type":"quantitative","scale":{"domain":[0.341,6.609],"nice":false,"zero":false},"axis":{"values":[1,2,3,4,5],"format":"d","title":null}}},"layer":[
{"mark":{"type":"rule","color":"#000","strokeWidth":2.5},"encoding":{"y":{"field":"lo","type":"quantitative","scale":{"domain":[0,1.5],"nice":false},"axis":{"values":[0,0.5,1,1.5],"format":".1f","title":"Frequency (N)","titleFontSize":21,"titleFontWeight":"bold","titleX":-73,"titleY":173,"titleBaseline":"middle"}},"y2":{"field":"hi"}}},
{"mark":{"type":"tick","orient":"horizontal","size":16,"thickness":3.5,"color":"#000"},"encoding":{"y":{"field":"hi","type":"quantitative"}}},
{"mark":{"type":"tick","orient":"horizontal","size":16,"thickness":3.5,"color":"#000"},"encoding":{"y":{"field":"lo","type":"quantitative"}}},
{"mark":{"type":"bar","orient":"vertical","size":40,"fill":"#E59565","stroke":"#331505","strokeWidth":2.5},"encoding":{"y":{"field":"q1","type":"quantitative"},"y2":{"field":"q3"}}},
{"mark":{"type":"tick","orient":"horizontal","size":40,"thickness":4.5,"color":"#331505"},"encoding":{"y":{"field":"m","type":"quantitative"}}},
{"mark":{"type":"rule","color":"#222","strokeWidth":5},"encoding":{"x":{"datum":0.142,"type":"quantitative"},"x2":{"datum":5.674},"y":{"datum":0,"type":"quantitative"}}},
{"transform":[{"filter":"datum.g==1"}],"mark":{"type":"text","fontSize":38,"fontStyle":"italic","color":"#111"},"encoding":{"x":{"datum":2.303,"type":"quantitative"},"y":{"datum":1.44,"type":"quantitative"},"text":{"value":"Serratia"}}}]},

{"width":395,"height":347,"data":{"name":"box"},"transform":[{"filter":"datum.p=='S2'"}],"encoding":{"x":{"field":"g","type":"quantitative","scale":{"domain":[0.356,6.41],"nice":false,"zero":false},"axis":{"values":[1,2,3,4,5],"format":"d","title":"Discharges","titleX":143,"titleY":103,"titleBaseline":"middle"}}},"layer":[
{"mark":{"type":"rule","color":"#000","strokeWidth":2.5},"encoding":{"y":{"field":"lo","type":"quantitative","scale":{"domain":[0,1.5],"nice":false},"axis":{"values":[0,0.5,1,1.5],"format":".1f","title":null}},"y2":{"field":"hi"}}},
{"mark":{"type":"tick","orient":"horizontal","size":16,"thickness":3.5,"color":"#000"},"encoding":{"y":{"field":"hi","type":"quantitative"}}},
{"mark":{"type":"tick","orient":"horizontal","size":16,"thickness":3.5,"color":"#000"},"encoding":{"y":{"field":"lo","type":"quantitative"}}},
{"mark":{"type":"bar","orient":"vertical","size":40,"fill":"#F4ADBB","stroke":"#33060f","strokeWidth":2.5},"encoding":{"y":{"field":"q1","type":"quantitative"},"y2":{"field":"q3"}}},
{"mark":{"type":"tick","orient":"horizontal","size":40,"thickness":4.5,"color":"#33060f"},"encoding":{"y":{"field":"m","type":"quantitative"}}},
{"mark":{"type":"rule","color":"#222","strokeWidth":5},"encoding":{"x":{"datum":0.157,"type":"quantitative"},"x2":{"datum":5.689},"y":{"datum":0,"type":"quantitative"}}},
{"transform":[{"filter":"datum.g==1"}],"mark":{"type":"text","fontSize":38,"fontStyle":"italic","color":"#111"},"encoding":{"x":{"datum":3.544,"type":"quantitative"},"y":{"datum":1.44,"type":"quantitative"},"text":{"value":"Acinetobacter"}}}]},

{"width":400,"height":347,"data":{"name":"box"},"transform":[{"filter":"datum.p=='S3'"}],"encoding":{"x":{"field":"g","type":"quantitative","scale":{"domain":[0.341,6.471],"nice":false,"zero":false},"axis":{"values":[1,2,3,4,5],"format":"d","title":null}}},"layer":[
{"mark":{"type":"rule","color":"#000","strokeWidth":2.5},"encoding":{"y":{"field":"lo","type":"quantitative","scale":{"domain":[0,4],"nice":false},"axis":{"values":[0,1,2,3,4],"format":"d","title":null}},"y2":{"field":"hi"}}},
{"mark":{"type":"tick","orient":"horizontal","size":16,"thickness":3.5,"color":"#000"},"encoding":{"y":{"field":"hi","type":"quantitative"}}},
{"mark":{"type":"tick","orient":"horizontal","size":16,"thickness":3.5,"color":"#000"},"encoding":{"y":{"field":"lo","type":"quantitative"}}},
{"mark":{"type":"bar","orient":"vertical","size":40,"fill":"#FFFF33","stroke":"#222200","strokeWidth":2.5},"encoding":{"y":{"field":"q1","type":"quantitative"},"y2":{"field":"q3"}}},
{"mark":{"type":"tick","orient":"horizontal","size":40,"thickness":4.5,"color":"#222200"},"encoding":{"y":{"field":"m","type":"quantitative"}}},
{"mark":{"type":"rule","color":"#222","strokeWidth":5},"encoding":{"x":{"datum":0.142,"type":"quantitative"},"x2":{"datum":5.674},"y":{"datum":0,"type":"quantitative"}}},
{"transform":[{"filter":"datum.g==1"}],"mark":{"type":"text","fontSize":38,"fontStyle":"italic","color":"#111"},"encoding":{"x":{"datum":3.299,"type":"quantitative"},"y":{"datum":3.84,"type":"quantitative"},"text":{"value":"Pseudomonas"}}}]}
]},

{"spacing":0,"bounds":"flush","hconcat":[
{"width":122,"height":1,"data":{"values":[{"x0":0,"x1":1,"y0":0,"y1":1}]},"mark":{"type":"rect","opacity":0},"encoding":{"x":{"field":"x0","type":"quantitative","axis":null,"scale":{"domain":[0,1],"range":[0,122],"nice":false,"zero":false}},"x2":{"field":"x1"},"y":{"field":"y0","type":"quantitative","axis":null,"scale":{"domain":[0,1],"range":[-40,470],"nice":false,"zero":false}},"y2":{"field":"y1"}}},

{"width":414,"height":337,"data":{"name":"box"},"transform":[{"filter":"datum.p=='C1'"}],"encoding":{"x":{"field":"g","type":"quantitative","scale":{"domain":[0.361,5.648],"nice":false,"zero":false},"axis":{"values":[1,2,3,4],"title":null,"labelExpr":"['','Spring','Summer','Autumn','Winter'][datum.value]","labelAngle":-45,"labelAlign":"right","labelBaseline":"middle","labelFontStyle":"italic","labelFontSize":22,"labelPadding":6}}},"layer":[
{"mark":{"type":"rule","color":"#000","strokeWidth":2.5},"encoding":{"y":{"field":"lo","type":"quantitative","scale":{"domain":[0,6],"nice":false},"axis":{"values":[0,2,4,6],"format":"d","title":"Frequency (n)","titleFontStyle":"italic","titleX":-59,"titleY":174,"titleBaseline":"middle"}},"y2":{"field":"hi"}}},
{"mark":{"type":"tick","orient":"horizontal","size":16,"thickness":3.5,"color":"#000"},"encoding":{"y":{"field":"hi","type":"quantitative"}}},
{"mark":{"type":"tick","orient":"horizontal","size":16,"thickness":3.5,"color":"#000"},"encoding":{"y":{"field":"lo","type":"quantitative"}}},
{"mark":{"type":"bar","orient":"vertical","size":50,"fill":"#8A5CE0","stroke":"#1a0a33","strokeWidth":2.5},"encoding":{"y":{"field":"q1","type":"quantitative"},"y2":{"field":"q3"}}},
{"mark":{"type":"tick","orient":"horizontal","size":50,"thickness":4.5,"color":"#1a0a33"},"encoding":{"y":{"field":"m","type":"quantitative"}}},
{"mark":{"type":"rule","color":"#222","strokeWidth":5},"encoding":{"x":{"datum":0.182,"type":"quantitative"},"x2":{"datum":4.678},"y":{"datum":0,"type":"quantitative"}}},
{"transform":[{"filter":"datum.g==1"}],"mark":{"type":"text","fontSize":40,"fontStyle":"italic","color":"#111"},"encoding":{"x":{"datum":2.596,"type":"quantitative"},"y":{"datum":5.875,"type":"quantitative"},"text":{"value":"Enterobacter"}}}]},

{"width":389,"height":336,"data":{"name":"box"},"transform":[{"filter":"datum.p=='C2'"}],"encoding":{"x":{"field":"g","type":"quantitative","scale":{"domain":[0.336,5.304],"nice":false,"zero":false},"axis":{"values":[1,2,3,4],"title":null,"labelExpr":"['','Spring','Summer','Autumn','Winter'][datum.value]","labelAngle":-45,"labelAlign":"right","labelBaseline":"middle","labelFontStyle":"italic","labelFontSize":22,"labelPadding":6}}},"layer":[
{"mark":{"type":"rule","color":"#000","strokeWidth":2.5},"encoding":{"y":{"field":"lo","type":"quantitative","scale":{"domain":[0,2.5],"nice":false},"axis":{"values":[0,0.5,1,1.5,2,2.5],"format":".1f","title":null}},"y2":{"field":"hi"}}},
{"mark":{"type":"tick","orient":"horizontal","size":16,"thickness":3.5,"color":"#000"},"encoding":{"y":{"field":"hi","type":"quantitative"}}},
{"mark":{"type":"tick","orient":"horizontal","size":16,"thickness":3.5,"color":"#000"},"encoding":{"y":{"field":"lo","type":"quantitative"}}},
{"mark":{"type":"bar","orient":"vertical","size":50,"fill":"#B0F2F0","stroke":"#0a2a2a","strokeWidth":2.5},"encoding":{"y":{"field":"q1","type":"quantitative"},"y2":{"field":"q3"}}},
{"mark":{"type":"tick","orient":"horizontal","size":50,"thickness":4.5,"color":"#0a2a2a"},"encoding":{"y":{"field":"m","type":"quantitative"}}},
{"mark":{"type":"rule","color":"#222","strokeWidth":5},"encoding":{"x":{"datum":0.157,"type":"quantitative"},"x2":{"datum":4.666},"y":{"datum":0,"type":"quantitative"}}},
{"transform":[{"filter":"datum.g==1"}],"mark":{"type":"text","fontSize":40,"fontStyle":"italic","color":"#111"},"encoding":{"x":{"datum":2.597,"type":"quantitative"},"y":{"datum":2.44,"type":"quantitative"},"text":{"value":"Klebsiella"}}}]},

{"width":382,"height":333,"data":{"name":"box"},"transform":[{"filter":"datum.p=='C3'"}],"encoding":{"x":{"field":"g","type":"quantitative","scale":{"domain":[0.359,5.256],"nice":false,"zero":false},"axis":{"values":[1,2,3,4],"title":null,"labelExpr":"['','Spring','Summer','Autumn','Winter'][datum.value]","labelAngle":-45,"labelAlign":"right","labelBaseline":"middle","labelFontStyle":"italic","labelFontSize":22,"labelPadding":6}}},"layer":[
{"mark":{"type":"rule","color":"#000","strokeWidth":2.5},"encoding":{"y":{"field":"lo","type":"quantitative","scale":{"domain":[0,4],"nice":false},"axis":{"values":[0,1,2,3,4],"format":"d","title":null}},"y2":{"field":"hi"}}},
{"mark":{"type":"tick","orient":"horizontal","size":16,"thickness":3.5,"color":"#000"},"encoding":{"y":{"field":"hi","type":"quantitative"}}},
{"mark":{"type":"tick","orient":"horizontal","size":16,"thickness":3.5,"color":"#000"},"encoding":{"y":{"field":"lo","type":"quantitative"}}},
{"mark":{"type":"bar","orient":"vertical","size":50,"fill":"#5EC58E","stroke":"#06301a","strokeWidth":2.5},"encoding":{"y":{"field":"q1","type":"quantitative"},"y2":{"field":"q3"}}},
{"mark":{"type":"tick","orient":"horizontal","size":50,"thickness":4.5,"color":"#06301a"},"encoding":{"y":{"field":"m","type":"quantitative"}}},
{"mark":{"type":"rule","color":"#222","strokeWidth":5},"encoding":{"x":{"datum":0.167,"type":"quantitative"},"x2":{"datum":4.667},"y":{"datum":0,"type":"quantitative"}}},
{"transform":[{"filter":"datum.g==1"}],"mark":{"type":"text","fontSize":40,"fontStyle":"italic","color":"#111"},"encoding":{"x":{"datum":2.769,"type":"quantitative"},"y":{"datum":3.916,"type":"quantitative"},"text":{"value":"Citrobacter"}}}]},

{"width":363,"height":333,"data":{"name":"box"},"transform":[{"filter":"datum.p=='C4'"}],"encoding":{"x":{"field":"g","type":"quantitative","scale":{"domain":[0.359,5.013],"nice":false,"zero":false},"axis":{"values":[1,2,3,4],"title":null,"labelExpr":"['','Spring','Summer','Autumn','Winter'][datum.value]","labelAngle":-45,"labelAlign":"right","labelBaseline":"middle","labelFontStyle":"italic","labelFontSize":22,"labelPadding":6}}},"layer":[
{"mark":{"type":"rule","color":"#000","strokeWidth":2.5},"encoding":{"y":{"field":"lo","type":"quantitative","scale":{"domain":[0,6],"nice":false},"axis":{"values":[0,2,4,6],"format":"d","title":null}},"y2":{"field":"hi"}}},
{"mark":{"type":"tick","orient":"horizontal","size":16,"thickness":3.5,"color":"#000"},"encoding":{"y":{"field":"hi","type":"quantitative"}}},
{"mark":{"type":"tick","orient":"horizontal","size":16,"thickness":3.5,"color":"#000"},"encoding":{"y":{"field":"lo","type":"quantitative"}}},
{"mark":{"type":"bar","orient":"vertical","size":50,"fill":"#CE5A78","stroke":"#30060f","strokeWidth":2.5},"encoding":{"y":{"field":"q1","type":"quantitative"},"y2":{"field":"q3"}}},
{"mark":{"type":"tick","orient":"horizontal","size":50,"thickness":4.5,"color":"#30060f"},"encoding":{"y":{"field":"m","type":"quantitative"}}},
{"mark":{"type":"rule","color":"#222","strokeWidth":5},"encoding":{"x":{"datum":0.167,"type":"quantitative"},"x2":{"datum":4.68},"y":{"datum":0,"type":"quantitative"}}},
{"transform":[{"filter":"datum.g==1"}],"mark":{"type":"text","fontSize":36,"fontStyle":"italic","color":"#111"},"encoding":{"x":{"datum":2.628,"type":"quantitative"},"y":{"datum":5.946,"type":"quantitative"},"text":{"value":"Escherichia-Shigella"}}}]}
]},

{"spacing":0,"bounds":"flush","hconcat":[
{"width":359,"height":1,"data":{"values":[{"x0":0,"x1":1,"y0":0,"y1":1}]},"mark":{"type":"rect","opacity":0},"encoding":{"x":{"field":"x0","type":"quantitative","axis":null,"scale":{"domain":[0,1],"range":[0,359],"nice":false,"zero":false}},"x2":{"field":"x1"},"y":{"field":"y0","type":"quantitative","axis":null,"scale":{"domain":[0,1],"range":[-40,520],"nice":false,"zero":false}},"y2":{"field":"y1"}}},

{"width":399,"height":339,"data":{"name":"box"},"transform":[{"filter":"datum.p=='R1'"}],"encoding":{"x":{"field":"g","type":"quantitative","scale":{"domain":[0.349,5.444],"nice":false,"zero":false},"axis":{"values":[1,2,3,4],"title":null,"labelExpr":"['','Spring','Summer','Autumn','Winter'][datum.value]","labelAngle":-45,"labelAlign":"right","labelBaseline":"middle","labelFontStyle":"italic","labelFontSize":22,"labelPadding":6}}},"layer":[
{"mark":{"type":"rule","color":"#000","strokeWidth":2.5},"encoding":{"y":{"field":"lo","type":"quantitative","scale":{"domain":[0,1.5],"nice":false},"axis":{"values":[0,0.5,1,1.5],"format":".1f","title":"Frequency (N)","titleFontSize":21,"titleFontWeight":"bold","titleX":-74,"titleY":169,"titleBaseline":"middle"}},"y2":{"field":"hi"}}},
{"mark":{"type":"tick","orient":"horizontal","size":16,"thickness":3.5,"color":"#000"},"encoding":{"y":{"field":"hi","type":"quantitative"}}},
{"mark":{"type":"tick","orient":"horizontal","size":16,"thickness":3.5,"color":"#000"},"encoding":{"y":{"field":"lo","type":"quantitative"}}},
{"mark":{"type":"bar","orient":"vertical","size":49,"fill":"#E59565","stroke":"#331505","strokeWidth":2.5},"encoding":{"y":{"field":"q1","type":"quantitative"},"y2":{"field":"q3"}}},
{"mark":{"type":"tick","orient":"horizontal","size":49,"thickness":4.5,"color":"#331505"},"encoding":{"y":{"field":"m","type":"quantitative"}}},
{"mark":{"type":"rule","color":"#222","strokeWidth":5},"encoding":{"x":{"datum":0.18,"type":"quantitative"},"x2":{"datum":4.65},"y":{"datum":0,"type":"quantitative"}}},
{"transform":[{"filter":"datum.g==1"}],"mark":{"type":"text","fontSize":38,"fontStyle":"italic","color":"#111"},"encoding":{"x":{"datum":2.277,"type":"quantitative"},"y":{"datum":1.4425,"type":"quantitative"},"text":{"value":"Serratia"}}}]},

{"width":384,"height":339,"data":{"name":"box"},"transform":[{"filter":"datum.p=='R2'"}],"encoding":{"x":{"field":"g","type":"quantitative","scale":{"domain":[0.354,5.259],"nice":false,"zero":false},"axis":{"values":[1,2,3,4],"title":"Seasons","titleFontStyle":"italic","titleX":121,"titleY":127,"titleBaseline":"middle","labelExpr":"['','Spring','Summer','Autumn','Winter'][datum.value]","labelAngle":-45,"labelAlign":"right","labelBaseline":"middle","labelFontStyle":"italic","labelFontSize":22,"labelPadding":6}}},"layer":[
{"mark":{"type":"rule","color":"#000","strokeWidth":2.5},"encoding":{"y":{"field":"lo","type":"quantitative","scale":{"domain":[0,1.5],"nice":false},"axis":{"values":[0,0.5,1,1.5],"format":".1f","title":null}},"y2":{"field":"hi"}}},
{"mark":{"type":"tick","orient":"horizontal","size":16,"thickness":3.5,"color":"#000"},"encoding":{"y":{"field":"hi","type":"quantitative"}}},
{"mark":{"type":"tick","orient":"horizontal","size":16,"thickness":3.5,"color":"#000"},"encoding":{"y":{"field":"lo","type":"quantitative"}}},
{"mark":{"type":"bar","orient":"vertical","size":49,"fill":"#F4ADBB","stroke":"#33060f","strokeWidth":2.5},"encoding":{"y":{"field":"q1","type":"quantitative"},"y2":{"field":"q3"}}},
{"mark":{"type":"tick","orient":"horizontal","size":49,"thickness":4.5,"color":"#33060f"},"encoding":{"y":{"field":"m","type":"quantitative"}}},
{"mark":{"type":"rule","color":"#222","strokeWidth":5},"encoding":{"x":{"datum":0.18,"type":"quantitative"},"x2":{"datum":4.66},"y":{"datum":0,"type":"quantitative"}}},
{"transform":[{"filter":"datum.g==1"}],"mark":{"type":"text","fontSize":38,"fontStyle":"italic","color":"#111"},"encoding":{"x":{"datum":2.87,"type":"quantitative"},"y":{"datum":1.4425,"type":"quantitative"},"text":{"value":"Acinetobacter"}}}]},

{"width":350,"height":338,"data":{"name":"box"},"transform":[{"filter":"datum.p=='R3'"}],"encoding":{"x":{"field":"g","type":"quantitative","scale":{"domain":[0.354,4.825],"nice":false,"zero":false},"axis":{"values":[1,2,3,4],"title":null,"labelExpr":"['','Spring','Summer','Autumn','Winter'][datum.value]","labelAngle":-45,"labelAlign":"right","labelBaseline":"middle","labelFontStyle":"italic","labelFontSize":22,"labelPadding":6}}},"layer":[
{"mark":{"type":"rule","color":"#000","strokeWidth":2.5},"encoding":{"y":{"field":"lo","type":"quantitative","scale":{"domain":[0,4],"nice":false},"axis":{"values":[0,1,2,3,4],"format":"d","title":null}},"y2":{"field":"hi"}}},
{"mark":{"type":"tick","orient":"horizontal","size":16,"thickness":3.5,"color":"#000"},"encoding":{"y":{"field":"hi","type":"quantitative"}}},
{"mark":{"type":"tick","orient":"horizontal","size":16,"thickness":3.5,"color":"#000"},"encoding":{"y":{"field":"lo","type":"quantitative"}}},
{"mark":{"type":"bar","orient":"vertical","size":49,"fill":"#FFFF33","stroke":"#222200","strokeWidth":2.5},"encoding":{"y":{"field":"q1","type":"quantitative"},"y2":{"field":"q3"}}},
{"mark":{"type":"tick","orient":"horizontal","size":49,"thickness":4.5,"color":"#222200"},"encoding":{"y":{"field":"m","type":"quantitative"}}},
{"mark":{"type":"rule","color":"#222","strokeWidth":5},"encoding":{"x":{"datum":0.18,"type":"quantitative"},"x2":{"datum":4.66},"y":{"datum":0,"type":"quantitative"}}},
{"transform":[{"filter":"datum.g==1"}],"mark":{"type":"text","fontSize":38,"fontStyle":"italic","color":"#111"},"encoding":{"x":{"datum":3.381,"type":"quantitative"},"y":{"datum":3.846,"type":"quantitative"},"text":{"value":"Pseudomonas"}}}]}
]}
]}
]}
